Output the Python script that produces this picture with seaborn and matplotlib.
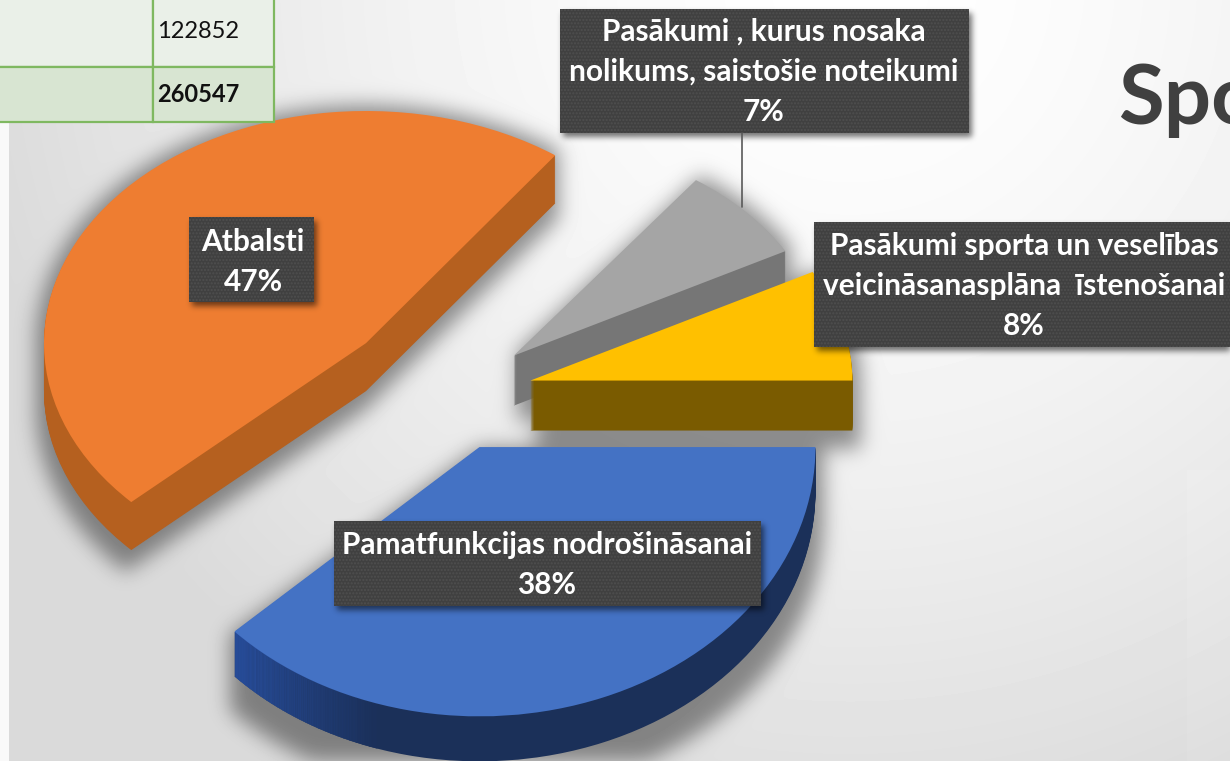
import numpy as np
import pandas as pd
import matplotlib
matplotlib.use('Agg')
import matplotlib.pyplot as plt
from matplotlib.patches import Rectangle, Wedge
from matplotlib.transforms import Affine2D
from matplotlib.colors import to_rgb
import seaborn as sns

# slices, clockwise from the grey one
names = ['Pasākumi , kurus nosaka\nnolikums, saistošie noteikumi',
         'Pasākumi sporta un veselības\nveicināsanasplāna  īstenošanai',
         'Pamatfunkcijas nodrošināsanai',
         'Atbalsti']
shares = [7, 8, 38, 47]
top_colors = ['#a5a5a5', '#ffc000', '#4472c4', '#ee7d31']
side_colors = ['#767676', '#7a5b00', '#1b3059', '#b5601f']
explode = [85, 83, 80, 112]
radii = [310, 322, 336, 322]
stretch = [1.0, 1.0, 1.145, 1.03]   # the perspective makes the front slices taller
depths = [50, 50, 45, 48]

table_cells = [['', '122852'], ['', '260547']]
title = 'Spo'

sns.set_theme(style='white')
plt.rcParams['font.family'] = ['Lato', 'DejaVu Sans']

W, H = 1230, 761
squash = 0.70
cx, cy = 450, 395
center_y = (H - cy) / squash


def blur(a, sigma):
    size = int(sigma * 3)
    kernel = np.exp(-0.5 * (np.arange(-size, size + 1) / sigma) ** 2)
    kernel = kernel / kernel.sum()
    a = np.apply_along_axis(lambda v: np.convolve(v, kernel, mode='same'), 0, a)
    return np.apply_along_axis(lambda v: np.convolve(v, kernel, mode='same'), 1, a)


def blur_alpha(sigma, strength):
    pad = int(sigma * 3) + 2

    def f(im, dpi):
        out = np.zeros((im.shape[0] + 2 * pad, im.shape[1] + 2 * pad, 4))
        out[pad:-pad, pad:-pad, :] = im
        out[:, :, 3] = blur(out[:, :, 3], sigma) * strength
        out[:, :, :3] = 0
        return out, -pad, -pad
    return f


def draw_pie(axis, colors, lift, grow=0):
    wedges, _ = axis.pie(df['share'], explode=explode, startangle=54, counterclock=False,
                         radius=1, center=(cx, center_y - lift / squash),
                         colors=colors, wedgeprops={'linewidth': 0})
    for w, r, s in zip(wedges, radii, stretch):
        w.set_radius(r + grow)
        x0, y0 = w.center
        w.set_transform(Affine2D().translate(-x0, -y0).scale(1, s).translate(x0, y0) + axis.transData)
    return wedges


def pie_axes(figure, zorder):
    axis = figure.add_axes([0, 0, 1, 1], zorder=zorder)
    axis.patch.set_alpha(0)
    return axis


def finish_pie_axes(axis):
    axis.set_aspect('auto')
    axis.set_xlim(0, W)
    axis.set_ylim(0, H / squash)
    axis.axis('off')


df = pd.DataFrame({'name': names, 'share': shares})

# shadow: draw the slices black on a spare figure, blur that, darken the background with it
fig_s = plt.figure(figsize=(W / 100, H / 100), dpi=100, facecolor='white')
ax_s = pie_axes(fig_s, 1)
for w, d in zip(draw_pie(ax_s, ['#000000'] * 4, 0, grow=8), depths):
    for off in np.arange(0, d + 20, 4.0):
        ax_s.add_patch(Wedge((w.center[0], w.center[1] - off / squash), w.r, w.theta1, w.theta2,
                             facecolor='black', lw=0, transform=w.get_transform()))
finish_pie_axes(ax_s)
fig_s.canvas.draw()
shadow = 1 - np.asarray(fig_s.canvas.buffer_rgba())[:, :, 0] / 255
shadow = blur(shadow, 10)
plt.close(fig_s)

fig = plt.figure(figsize=(W / 100, H / 100), dpi=100)

# background fade, white at the top right
ax_bg = fig.add_axes([0, 0, 1, 1], zorder=0)
xx, yy = np.meshgrid(np.arange(W), np.arange(H))
dist = np.hypot(xx - 850, yy + 20) / 850
bg = 1 - 0.135 * np.minimum(dist, 1.05) ** 1.5
bg[:, :9] = 0.975
bg[470:, 1187:] += 0.008
bg = bg * (1 - 0.42 * shadow)
ax_bg.imshow(bg, cmap='gray', vmin=0, vmax=1, aspect='auto')
ax_bg.axis('off')

# the pie lives in an axes whose y unit is stretched, so circles come out flat
ax = pie_axes(fig, 1)

# side walls, stacked from the bottom up
side_rgb = sns.color_palette(side_colors)
for off in np.arange(max(depths), 0, -1.0):
    wedges = draw_pie(ax, side_rgb, off)
    for w, d in zip(wedges, depths):
        w.set_visible(off <= d)
    # the left end of the blue wall is lighter, it fades into the dark
    wb = wedges[2]
    if off <= depths[2]:
        start = wb.theta1
        for k in range(24):
            t = k / 24
            col = (1 - t) * np.array(to_rgb('#2a52a5')) + t * np.array(to_rgb(side_colors[2]))
            ax.add_patch(Wedge(wb.center, wb.r, start + k * 1.2, start + (k + 1) * 1.2 + 0.3,
                               facecolor=col, lw=0, transform=wb.get_transform()))

draw_pie(ax, sns.color_palette(top_colors), 0)
finish_pie_axes(ax)

# labels and everything else in plain pixel coordinates
over = fig.add_axes([0, 0, 1, 1], zorder=2)
over.patch.set_alpha(0)
over.set_xlim(0, W)
over.set_ylim(H, 0)
over.axis('off')

over.plot([742, 742], [133, 207], color='#595959', lw=1.2)

boxes = [(560, 9, 409, 124, 764, 72), (814, 222, 430, 125, 1024, 286),
         (334, 521, 427, 85, 547, 565), (189, 217, 125, 85, 253, 262)]
for name, share, (bx, by, bw, bh, tx, ty) in zip(names, shares, boxes):
    sh = Rectangle((bx + 3, by + 4), bw, bh, facecolor='black', lw=0)
    sh.set_agg_filter(blur_alpha(3, 0.55))
    over.add_patch(sh)
    over.add_patch(Rectangle((bx, by), bw, bh, facecolor='#404040', edgecolor='#4f4f4f',
                             hatch='.....', lw=0))
    over.text(tx, ty, f'{name}\n{share}%', color='white', fontsize=21.5, fontweight='bold',
              ha='center', va='center', linespacing=1.52)

over.text(1118, 124, title, color='#404040', fontsize=60, fontweight='bold', ha='left', va='baseline')

# corner of the table that sits over the slide
tab = over.table(cellText=table_cells, cellLoc='left', colWidths=[158 / W, 121 / W],
                 bbox=[-5 / W, 1 - 122 / H, 279 / W, 125 / H])
tab.auto_set_font_size(False)
for (row, col), cell in tab.get_celld().items():
    cell.set_edgecolor('#7fb860')
    cell.set_linewidth(1.6)
    cell.set_height(70 if row == 0 else 55)
    cell.set_facecolor('#eaf0e8' if row == 0 else '#d8e5d2')
    cell.PAD = 0.03
    cell.set_text_props(fontsize=17, color='#111111', fontweight='bold' if row == 1 else 'normal')

fig.savefig('out.png', dpi=100)
